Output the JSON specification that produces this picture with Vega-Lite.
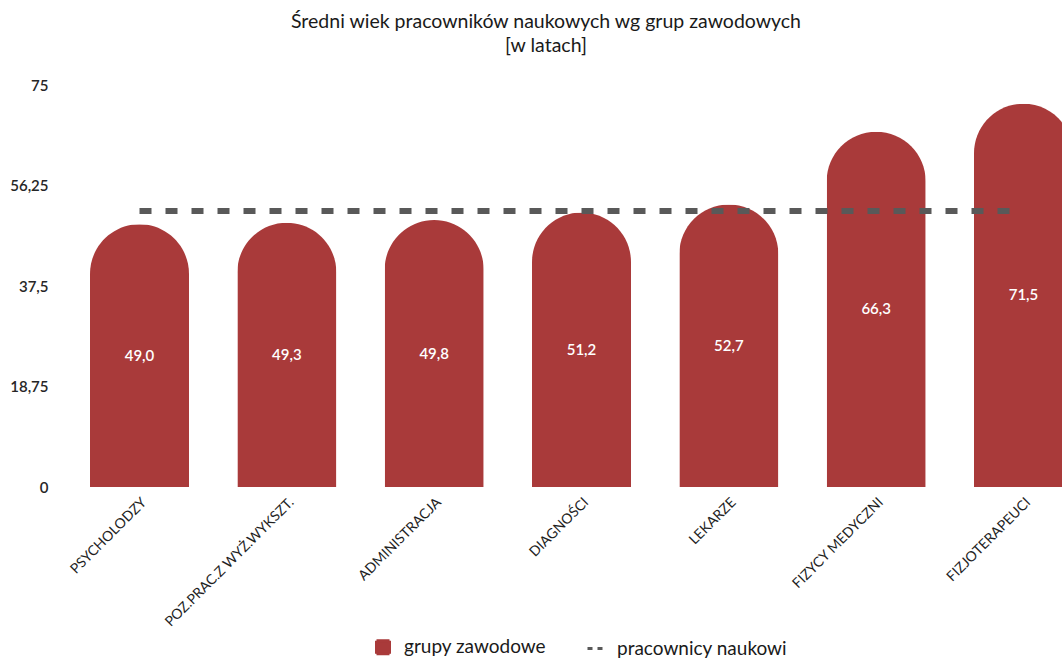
{
  "$schema": "https://vega.github.io/schema/vega-lite/v6.json",
  "autosize": {"type": "none"},
  "padding": {"left": 90, "top": 85, "right": 0, "bottom": 171},
  "width": 972,
  "height": 402,
  "background": "white",
  "title": {
    "text": ["Średni wiek pracowników naukowych wg grup zawodowych", "[w latach]"],
    "font": "Lato",
    "fontSize": 19.5,
    "fontWeight": "normal",
    "color": "#1a1a1a",
    "anchor": "middle",
    "dx": -30,
    "offset": 22,
    "lineHeight": 24
  },
  "data": {
    "values": [
      {"grupa": "PSYCHOLODZY", "wiek": 49.0, "srednia": 51.5},
      {"grupa": "POZ.PRAC.Z WYŻ.WYKSZT.", "wiek": 49.3, "srednia": 51.5},
      {"grupa": "ADMINISTRACJA", "wiek": 49.8, "srednia": 51.5},
      {"grupa": "DIAGNOŚCI", "wiek": 51.2, "srednia": 51.5},
      {"grupa": "LEKARZE", "wiek": 52.7, "srednia": 51.5},
      {"grupa": "FIZYCY MEDYCZNI", "wiek": 66.3, "srednia": 51.5},
      {"grupa": "FIZJOTERAPEUCI", "wiek": 71.5, "srednia": 51.5}
    ]
  },
  "encoding": {
    "x": {
      "field": "grupa",
      "type": "nominal",
      "sort": null,
      "scale": {"range": [0, 983], "paddingInner": 0.328, "paddingOuter": 0},
      "axis": {
        "title": null,
        "labelAngle": -45,
        "labelFont": "Lato",
        "labelFontSize": 14,
        "labelColor": "#1f1f1f",
        "domain": false,
        "ticks": false,
        "labelPadding": 8,
        "labelLimit": 300
      }
    }
  },
  "layer": [
    {
      "mark": {"type": "bar", "cornerRadiusEnd": 49.5},
      "encoding": {
        "y": {
          "field": "wiek",
          "type": "quantitative",
          "scale": {"domain": [0, 75], "nice": false},
          "axis": {
            "title": null,
            "values": [0, 18.75, 37.5, 56.25, 75],
            "format": ".4~g",
            "labelFont": "Lato",
            "labelFontSize": 15,
            "labelFontWeight": 600,
            "labelColor": "#262626",
            "domain": false,
            "ticks": false,
            "grid": false,
            "labelPadding": 42
          }
        },
        "color": {
          "datum": "grupy zawodowe",
          "scale": {"domain": ["grupy zawodowe", "pracownicy naukowi"], "range": ["#A93A3A", "#595959"]},
          "legend": {
            "title": null,
            "orient": "none",
            "legendX": 283,
            "legendY": 552,
            "direction": "horizontal",
            "labelFont": "Lato",
            "labelFontSize": 19,
            "labelColor": "#1a1a1a",
            "labelOffset": 11,
            "labelLimit": 400,
            "columnPadding": 34,
            "encode": {
              "symbols": {
                "update": {
                  "shape": {"signal": "datum.value == 'grupy zawodowe' ? 'square' : 'stroke'"},
                  "fill": {"signal": "datum.value == 'grupy zawodowe' ? '#A93A3A' : 'transparent'"},
                  "stroke": {"signal": "datum.value == 'grupy zawodowe' ? 'transparent' : '#595959'"},
                  "strokeWidth": {"value": 3},
                  "strokeDash": {"signal": "datum.value == 'grupy zawodowe' ? [1, 0] : [5, 5]"},
                  "size": {"signal": "datum.value == 'grupy zawodowe' ? 169 : 289"},
                  "opacity": {"value": 1}
                }
              }
            }
          }
        }
      }
    },
    {
      "mark": {"type": "line", "strokeWidth": 6, "strokeDash": [12, 14]},
      "encoding": {
        "y": {
          "field": "srednia",
          "type": "quantitative",
          "scale": {"domain": [0, 75], "nice": false},
          "axis": null
        },
        "color": {"datum": "pracownicy naukowi"}
      }
    },
    {
      "mark": {"type": "text", "color": "white", "font": "Lato", "fontSize": 15, "fontWeight": 600, "baseline": "middle"},
      "encoding": {
        "y": {
          "field": "wiek",
          "type": "quantitative",
          "scale": {"domain": [0, 150], "nice": false},
          "axis": null
        },
        "text": {"field": "wiek", "type": "quantitative", "format": ".1f"}
      }
    }
  ],
  "resolve": {"scale": {"y": "independent"}},
  "config": {
    "view": {"stroke": null},
    "locale": {"number": {"decimal": ",", "thousands": " ", "grouping": [3], "currency": ["", " zł"]}}
  }
}
